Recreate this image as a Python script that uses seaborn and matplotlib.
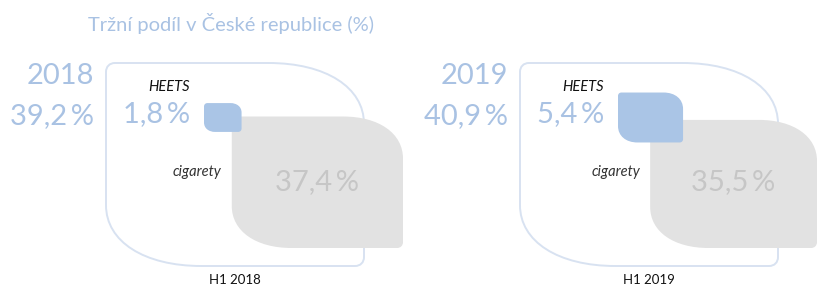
import matplotlib
matplotlib.use("Agg")
import matplotlib.pyplot as plt
from matplotlib.path import Path
from matplotlib.patches import PathPatch
import seaborn as sns

# ---- data ----
title = "Tržní podíl v České republice (%)"
years = ["2018", "2019"]
periods = ["H1 2018", "H1 2019"]
total_share = [39.2, 40.9]
heets_share = [1.8, 5.4]
cig_share = [37.4, 35.5]
series_labels = ["HEETS", "cigarety"]

sns.set_theme(style="white")
plt.rcParams["font.family"] = ["Lato", "DejaVu Sans"]

LIGHT_BLUE = "#a9c2e3"
BLUE_FILL = "#aac5e6"
OUTLINE = "#d8e2f1"
GREY_FILL = "#e2e2e2"
GREY_TEXT = "#c6c6c6"

W, H = 829, 299
fig = plt.figure(figsize=(W / 100, H / 100), dpi=100)
ax = fig.add_axes([0, 0, 1, 1])
ax.set_xlim(0, W)
ax.set_ylim(H, 0)
ax.set_axis_off()
sns.despine(ax=ax, left=True, bottom=True)


def leaf(x0, y0, w, h, fx=0.35, fy=0.32, rs=6, k=0.6):
    rx, ry = fx * w, fy * h
    x1, y1 = x0 + w, y0 + h
    c = 1 - k
    verts = [
        (x0, y0 + rs),
        (x0, y0 + rs * c), (x0 + rs * c, y0), (x0 + rs, y0),
        (x1 - rx, y0),
        (x1 - rx * c, y0), (x1, y0 + ry * c), (x1, y0 + ry),
        (x1, y1 - rs),
        (x1, y1 - rs * c), (x1 - rs * c, y1), (x1 - rs, y1),
        (x0 + rx, y1),
        (x0 + rx * c, y1), (x0, y1 - ry * c), (x0, y1 - ry),
        (x0, y0 + rs),
    ]
    codes = [Path.MOVETO] + [Path.CURVE4] * 3 + [Path.LINETO] + [Path.CURVE4] * 3 + \
            [Path.LINETO] + [Path.CURVE4] * 3 + [Path.LINETO] + [Path.CURVE4] * 3 + [Path.CLOSEPOLY]
    return Path(verts, codes)


def fmt(v):
    return f"{v:.1f}".replace(".", ",") + "\u2009%"


# layout
panel_dx = [0, 414]
OUT_X, OUT_Y, OUT_W, OUT_H = 106, 63, 258, 203
KW, KH = 28.0, 21.5   # size scale per sqrt(share)
BIG = 21

ax.text(231, 24, title, ha="center", va="center", fontsize=14.5,
        color=LIGHT_BLUE)

for i in range(len(years)):
    dx = panel_dx[i]
    ox = OUT_X + dx
    # outer frame (total)
    ax.add_patch(PathPatch(leaf(ox, OUT_Y, OUT_W, OUT_H, fx=0.37, fy=0.3, rs=9),
                           facecolor="white", edgecolor=OUTLINE, lw=1.4, zorder=1))
    # cigarettes
    cw, ch = KW * cig_share[i] ** 0.5, KH * cig_share[i] ** 0.5
    cx1, cy1 = ox + OUT_W + 39, OUT_Y + OUT_H - 18
    cx0, cy0 = cx1 - cw, cy1 - ch
    ax.add_patch(PathPatch(leaf(cx0, cy0, cw, ch, rs=6), facecolor=GREY_FILL,
                           edgecolor="none", zorder=2))
    # HEETS
    hw, hh = KW * heets_share[i] ** 0.5, KH * heets_share[i] ** 0.5
    hx0 = ox + 98
    hy0 = 117.5 - hh / 2
    ax.add_patch(PathPatch(leaf(hx0, hy0, hw, hh, fx=0.3, fy=0.33, rs=3.5), facecolor=BLUE_FILL,
                           edgecolor="none", zorder=3))

    # texts
    ax.text(ox - 12, 76, years[i], ha="right", va="center", fontsize=BIG,
            color=LIGHT_BLUE)
    ax.text(ox - 12, 116, fmt(total_share[i]), ha="right", va="center", fontsize=BIG,
            color=LIGHT_BLUE)
    ax.text(hx0 - 14, 114, fmt(heets_share[i]), ha="right", va="center", fontsize=BIG,
            color=LIGHT_BLUE, zorder=4)
    ax.text(hx0 - 35, 87, series_labels[0], ha="center", va="center", fontsize=10.5,
            color="#111111", style="italic", zorder=4)
    ax.text(cx0 - 10, 172, series_labels[1], ha="right", va="center", fontsize=10.5,
            color="#333333", style="italic", zorder=4)
    ax.text((cx0 + cx1) / 2, 182, fmt(cig_share[i]), ha="center", va="center",
            fontsize=BIG, color=GREY_TEXT, zorder=4)
    ax.text(ox + OUT_W / 2, 280, periods[i], ha="center", va="center", fontsize=9.5,
            color="#111111", zorder=4)

fig.savefig("out.png", dpi=100, facecolor="white")
